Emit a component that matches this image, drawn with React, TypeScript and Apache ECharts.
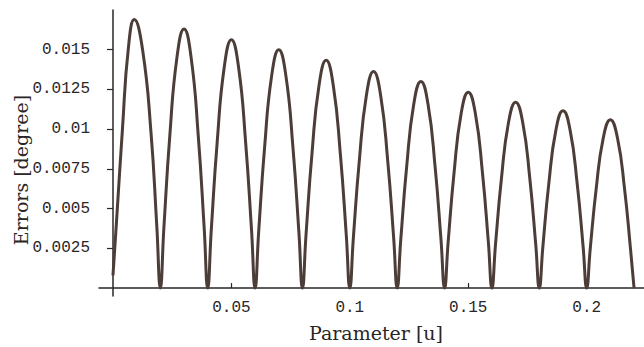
import { useEffect, useRef } from "react";
import * as echarts from "echarts";

// Parameter u (x) and error in degrees (y), read arch by arch from the plot
const paramU = [
  0, 0.0015, 0.004, 0.0065, 0.009, 0.0125, 0.016, 0.0185,
  0.02, 0.0215, 0.024, 0.027, 0.03, 0.033, 0.036, 0.0385,
  0.04, 0.0415, 0.044, 0.047, 0.05, 0.053, 0.056, 0.0585,
  0.06, 0.0615, 0.064, 0.067, 0.07, 0.073, 0.076, 0.0785,
  0.08, 0.0815, 0.084, 0.087, 0.09, 0.093, 0.096, 0.0985,
  0.1, 0.1015, 0.104, 0.107, 0.11, 0.113, 0.116, 0.1185,
  0.12, 0.1215, 0.124, 0.127, 0.13, 0.133, 0.136, 0.1385,
  0.14, 0.1415, 0.144, 0.147, 0.15, 0.153, 0.156, 0.1585,
  0.16, 0.1615, 0.164, 0.167, 0.17, 0.173, 0.176, 0.1785,
  0.18, 0.1815, 0.184, 0.187, 0.19, 0.193, 0.196, 0.1985,
  0.2, 0.2015, 0.204, 0.207, 0.21, 0.213, 0.216, 0.2185,
  0.22,
];

const errorDeg = [
  0.0008, 0.0042, 0.01, 0.0151, 0.0169, 0.015, 0.0099, 0.0039,
  0, 0.0038, 0.0096, 0.0145, 0.0163, 0.0145, 0.0096, 0.0038,
  0, 0.00364, 0.00919, 0.01393, 0.01563, 0.01393, 0.00919, 0.00364,
  0, 0.0035, 0.00882, 0.01337, 0.015, 0.01337, 0.00882, 0.0035,
  0, 0.00334, 0.00843, 0.01277, 0.01433, 0.01277, 0.00843, 0.00334,
  0, 0.00318, 0.00801, 0.01214, 0.01363, 0.01214, 0.00801, 0.00318,
  0, 0.00303, 0.00764, 0.01158, 0.013, 0.01158, 0.00764, 0.00303,
  0, 0.00287, 0.00725, 0.01099, 0.01233, 0.01099, 0.00725, 0.00287,
  0, 0.00273, 0.00688, 0.01042, 0.0117, 0.01042, 0.00688, 0.00273,
  0, 0.0026, 0.00656, 0.00994, 0.01116, 0.00994, 0.00656, 0.0026,
  0, 0.00247, 0.00623, 0.00944, 0.01059, 0.00944, 0.00623, 0.00247,
  0,
];

const xTickValues = [0.05, 0.1, 0.15, 0.2];
const xTickLabels = ["0.05", "0.1", "0.15", "0.2"];
const yTickValues = [0.0025, 0.005, 0.0075, 0.01, 0.0125, 0.015];
const yTickLabels = ["0.0025", "0.005", "0.0075", "0.01", "0.0125", "0.015"];

const xTitle = "Parameter [u]";
const yTitle = "Errors [degree]";

const INK = "#2a2626";
const CURVE = "#4d3d38";
const MONO = "'Liberation Mono', 'DejaVu Sans Mono', monospace";
const SERIF = "'DejaVu Serif', 'Liberation Serif', serif";

export default function App() {
  const ref = useRef<HTMLDivElement>(null);

  useEffect(() => {
    if (!ref.current) return;
    const chart = echarts.init(ref.current, null, { renderer: "svg" });
    const points = paramU.map((u, i) => [u, errorDeg[i]]);
    const labelFor = (vals: number[], labels: string[]) => (v: number) => {
      const idx = vals.findIndex((t) => Math.abs(t - v) < 1e-9);
      return idx >= 0 ? labels[idx] : "";
    };
    chart.setOption({
      animation: false,
      backgroundColor: "#ffffff",
      grid: {
        left: 99,
        right: 0,
        top: 10,
        bottom: 51,
        containLabel: false,
        outerBoundsMode: "none",
      },
      xAxis: {
        type: "value",
        min: -0.0059,
        max: 0.2242,
        axisLine: { show: true, onZero: true, lineStyle: { color: INK, width: 1.5 } },
        axisTick: {
          show: true,
          inside: true,
          length: 5,
          customValues: xTickValues,
          lineStyle: { color: INK, width: 1.2 },
        },
        axisLabel: {
          show: true,
          customValues: xTickValues,
          formatter: labelFor(xTickValues, xTickLabels),
          margin: 4,
          color: INK,
          fontFamily: MONO,
          fontSize: 16,
        },
        splitLine: { show: false },
      },
      yAxis: {
        type: "value",
        min: -0.0005,
        max: 0.0175,
        axisLine: { show: true, onZero: true, lineStyle: { color: INK, width: 1.5 } },
        axisTick: {
          show: true,
          inside: false,
          length: 6,
          customValues: yTickValues,
          lineStyle: { color: INK, width: 1.2 },
        },
        axisLabel: {
          show: true,
          customValues: yTickValues,
          formatter: labelFor(yTickValues, yTickLabels),
          margin: 9,
          color: INK,
          fontFamily: MONO,
          fontSize: 16,
        },
        splitLine: { show: false },
      },
      graphic: [
        {
          type: "text",
          x: 376,
          y: 333,
          style: {
            text: xTitle,
            fontFamily: SERIF,
            fontSize: 19,
            fill: INK,
            align: "center",
            verticalAlign: "middle",
          },
        },
        {
          type: "text",
          x: 21,
          y: 170,
          rotation: Math.PI / 2,
          style: {
            text: yTitle,
            fontFamily: SERIF,
            fontSize: 19,
            fill: INK,
            align: "center",
            verticalAlign: "middle",
          },
        },
      ],
      series: [
        {
          type: "line",
          data: points,
          smooth: 0.5,
          showSymbol: false,
          symbol: "none",
          lineStyle: { color: CURVE, width: 3 },
          clip: false,
        },
      ],
    });
    return () => chart.dispose();
  }, []);

  return (
    <div
      ref={ref}
      style={{ position: "fixed", left: 0, top: 0, width: 644, height: 347, background: "#fff" }}
    />
  );
}
